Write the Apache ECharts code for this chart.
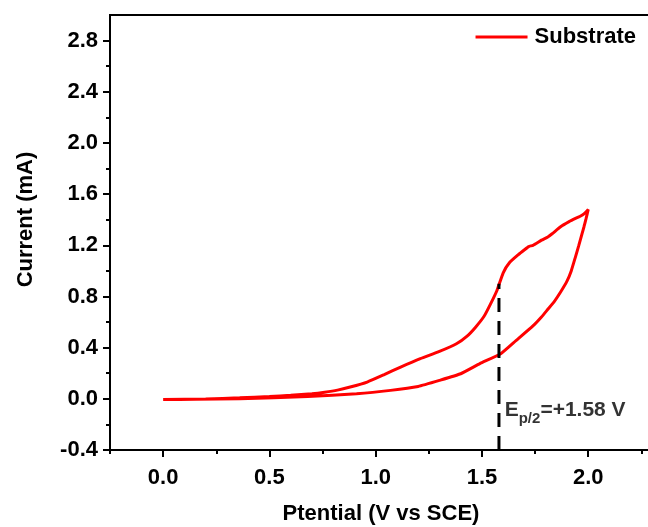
<!DOCTYPE html>
<html><head><meta charset="utf-8">
<script src="https://cdn.jsdelivr.net/npm/echarts@6/dist/echarts.min.js"></script>
<style>html,body{margin:0;padding:0;background:#fff}#c{width:648px;height:527px}</style>
</head><body><div id="c"></div>
<script>
// ---- data ----
const seriesName = 'Substrate';
const forwardV = [0.00, 0.20, 0.36, 0.50, 0.60, 0.70, 0.76, 0.82, 0.88, 0.96, 1.04, 1.12, 1.21, 1.30, 1.38, 1.43, 1.47, 1.51, 1.54, 1.57, 1.60, 1.63, 1.67, 1.70, 1.72, 1.74, 1.78, 1.81, 1.83, 1.87, 1.91, 1.94, 1.96, 1.98, 2.00];
const forwardI = [-0.005, -0.002, 0.008, 0.018, 0.027, 0.040, 0.052, 0.068, 0.092, 0.131, 0.189, 0.250, 0.314, 0.370, 0.430, 0.490, 0.560, 0.645, 0.740, 0.845, 0.985, 1.065, 1.125, 1.165, 1.190, 1.200, 1.240, 1.265, 1.290, 1.345, 1.385, 1.410, 1.425, 1.445, 1.480];
const reverseV = [2.00, 1.99, 1.98, 1.97, 1.955, 1.94, 1.92, 1.90, 1.87, 1.84, 1.81, 1.78, 1.74, 1.66, 1.59, 1.49, 1.40, 1.30, 1.20, 1.07, 0.91, 0.68, 0.36, 0.15, 0.00];
const reverseI = [1.480, 1.410, 1.345, 1.285, 1.195, 1.110, 1.000, 0.920, 0.835, 0.760, 0.700, 0.640, 0.570, 0.455, 0.355, 0.275, 0.196, 0.144, 0.097, 0.066, 0.040, 0.019, 0.000, -0.004, -0.005];
const epHalfV = 1.58;            // E p/2 marker position (V)
const epDashI = [-0.4, 0.9];     // dashed marker extent (mA)
const xMajorTicks = [0, 0.5, 1.0, 1.5, 2.0];
const xMinorTicks = [-0.25, 0.25, 0.75, 1.25, 1.75, 2.25];
const yMajorTicks = [-0.4, 0.0, 0.4, 0.8, 1.2, 1.6, 2.0, 2.4, 2.8];
const yMinorTicks = [-0.2, 0.2, 0.6, 1.0, 1.4, 1.8, 2.2, 2.6];
const xTitle = 'Ptential (V vs SCE)';
const yTitle = 'Current (mA)';

// ---- build ----
const cvData = [];
forwardV.forEach((v, i) => cvData.push([v, forwardI[i]]));
reverseV.forEach((v, i) => cvData.push([v, reverseI[i]]));
const dashData = epDashI.map(y => [epHalfV, y]);

const FONT = "'Liberation Sans', Arial, sans-serif";
const X_MIN = -0.25, X_MAX = 2.3, Y_MIN = -0.4, Y_MAX = 3.0;
const txt = (size) => ({fontFamily: FONT, fontWeight: 'bold', fontSize: size, color: '#000'});

const chart = echarts.init(document.getElementById('c'), null, {renderer: 'canvas'});
chart.setOption({
  animation: false,
  backgroundColor: '#fff',
  grid: {left: 110, top: 15, width: 542, height: 435, outerBoundsMode: 'none', containLabel: false,
         show: true, borderColor: '#000', borderWidth: 2, backgroundColor: 'transparent'},
  legend: {
    data: [{name: seriesName, icon: 'rect'}], right: 7, top: 21, itemWidth: 52, itemHeight: 3, itemGap: 10,
    textStyle: Object.assign(txt(22), {padding: [0, 0, 0, 2]})
  },
  xAxis: [{
    type: 'value', min: X_MIN, max: X_MAX,
    name: xTitle, nameLocation: 'middle', nameGap: 53,
    nameTextStyle: txt(22),
    axisLine: {onZero: false, lineStyle: {color: '#000', width: 2}},
    axisTick: {show: true, inside: false, length: 7, lineStyle: {color: '#000', width: 2}, customValues: xMajorTicks},
    axisLabel: Object.assign(txt(22), {customValues: xMajorTicks, margin: 17, formatter: v => v.toFixed(1)}),
    splitLine: {show: false}
  }, {
    type: 'value', min: X_MIN, max: X_MAX, position: 'bottom',
    axisLine: {show: false, onZero: false},
    axisTick: {show: true, length: 4, lineStyle: {color: '#000', width: 2}, customValues: xMinorTicks},
    axisLabel: {show: false}, splitLine: {show: false}
  }],
  yAxis: [{
    type: 'value', min: Y_MIN, max: Y_MAX,
    name: yTitle, nameLocation: 'middle', nameGap: 73, nameRotate: 90,
    nameTextStyle: Object.assign(txt(22), {padding: [0, 0, 0, 26]}),
    axisLine: {onZero: false, lineStyle: {color: '#000', width: 2}},
    axisTick: {show: true, length: 7, lineStyle: {color: '#000', width: 2}, customValues: yMajorTicks},
    axisLabel: Object.assign(txt(22), {customValues: yMajorTicks, margin: 12, formatter: v => v.toFixed(1)}),
    splitLine: {show: false}
  }, {
    type: 'value', min: Y_MIN, max: Y_MAX, position: 'left',
    axisLine: {show: false, onZero: false},
    axisTick: {show: true, length: 4, lineStyle: {color: '#000', width: 2}, customValues: yMinorTicks},
    axisLabel: {show: false}, splitLine: {show: false}
  }],
  series: [{
    name: seriesName, type: 'line', data: cvData, symbol: 'none', smooth: 0.15,
    lineStyle: {color: '#ff0000', width: 3}, itemStyle: {color: '#ff0000'}
  }, {
    name: 'Ep/2', type: 'line', data: dashData, symbol: 'none', silent: true,
    lineStyle: {color: '#000', width: 3, type: [14, 9]}
  }, {
    name: 'label', type: 'scatter', data: [[epHalfV + 0.027, -0.09]], symbolSize: 0, silent: true,
    label: {
      show: true, position: 'right', distance: 0,
      formatter: '{e|E}{s|p/2}{t|=+' + epHalfV.toFixed(2) + ' V}',
      rich: {
        e: txt(21),
        s: Object.assign(txt(15), {padding: [18, 0, 0, 0]}),
        t: txt(21)
      }
    }
  }]
});
</script></body></html>
